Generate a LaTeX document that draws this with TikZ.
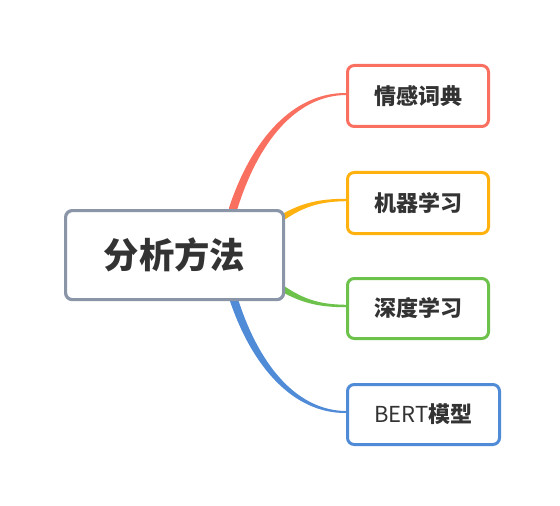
\documentclass[tikz,border=0pt]{standalone}
\usepackage{fontspec}
\newfontfamily\cjk{Noto Sans CJK SC}
\definecolor{cred}{HTML}{FA7060}
\definecolor{corange}{HTML}{FFB20F}
\definecolor{cgreen}{HTML}{6CC24A}
\definecolor{cblue}{HTML}{4F8BD6}
\definecolor{cgray}{HTML}{8A95A8}
\definecolor{ctext}{HTML}{333333}
\begin{document}
\begin{tikzpicture}[x=0.75pt,y=-0.75pt,
  childbox/.style={draw, line width=2.25pt, rounded corners=5pt, fill=white, text=ctext,
    font=\cjk\bfseries\fontsize{16.5pt}{18pt}\selectfont, anchor=north west, inner sep=0pt},
  rootbox/.style={draw=cgray, line width=2.4pt, rounded corners=5pt, fill=white, text=ctext,
    font=\cjk\bfseries\fontsize{26.5pt}{30pt}\selectfont, anchor=north west, inner sep=0pt}]
\useasboundingbox (0,0) rectangle (560,506);
% tapered branches
\fill[cred] (229,207.8) .. controls (251.7,138.95) and (293.35,92.55) .. (346,93)
  -- (346,95) .. controls (296.65,95.45) and (258.3,141.05) .. (237,210.2)
  -- (237,225) -- (229,225) -- cycle;
\fill[cblue] (229,298.2) .. controls (251.7,367.05) and (293.35,413.45) .. (346,413)
  -- (346,411) .. controls (296.65,410.55) and (258.3,364.95) .. (237,295.8)
  -- (237,281) -- (229,281) -- cycle;
\fill[corange] (273,219.5) .. controls (299,203) and (318,198.8) .. (346,198.8)
  -- (346,201.2) .. controls (318,201.6) and (301.5,207) .. (277,225) -- cycle;
\fill[cgreen] (273,286.5) .. controls (299,303) and (318,307.2) .. (346,307.2)
  -- (346,304.8) .. controls (318,304.4) and (301.5,299) .. (277,281) -- cycle;
% nodes
\node[rootbox, minimum width=218*0.75pt, minimum height=89*0.75pt] (root) at (64,209) {分析方法};
\node[childbox, draw=cred, minimum width=141*0.75pt, minimum height=61*0.75pt] (a) at (346,64) {情感词典};
\node[childbox, draw=corange, minimum width=141*0.75pt, minimum height=61*0.75pt] (b) at (346,171) {机器学习};
\node[childbox, draw=cgreen, minimum width=141*0.75pt, minimum height=60*0.75pt] (c) at (346,277) {深度学习};
\node[childbox, draw=cblue, minimum width=152*0.75pt, minimum height=60*0.75pt] (d) at (346,383) {{\mdseries BERT}模型};
\end{tikzpicture}
\end{document}
